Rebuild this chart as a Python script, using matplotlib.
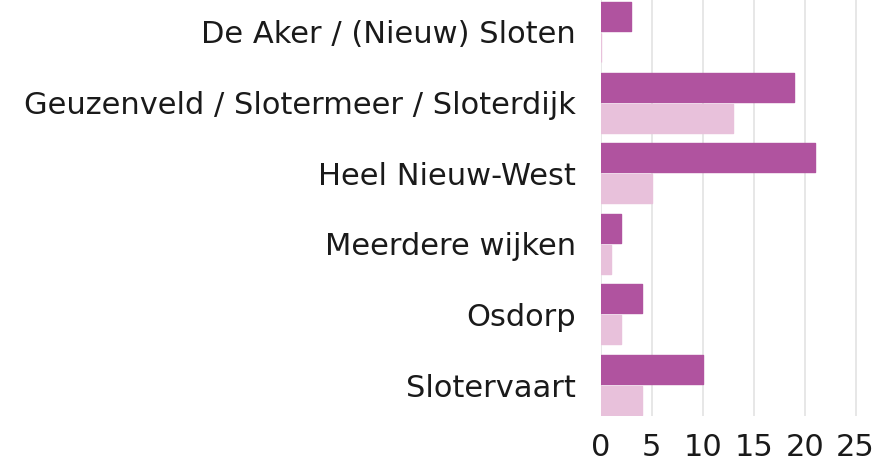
import numpy as np
import matplotlib.pyplot as plt

plt.rcParams['font.family'] = ['DejaVu Sans']

categories = ['De Aker / (Nieuw) Sloten', 'Geuzenveld / Slotermeer / Sloterdijk',
              'Heel Nieuw-West', 'Meerdere wijken', 'Osdorp', 'Slotervaart']
series_a = [3, 19, 21, 2, 4, 10]
series_b = [0, 13, 5, 1, 2, 4]
ticks = [0, 5, 10, 15, 20, 25]

dark = '#b0539f'
light = '#e8c1db'

fig = plt.figure(figsize=(8.76, 4.61), dpi=100)
ax = fig.add_axes([0.686, 0.0976, 0.314, 0.9024])

y = np.arange(len(categories))
h = 0.41
ax.barh(y - h / 2 - 0.014, series_a, height=h, color=dark, edgecolor=dark,
        linewidth=1, joinstyle='round', zorder=3)
ax.barh(y + h / 2 + 0.014, series_b, height=h, color=light, edgecolor=light,
        linewidth=1, joinstyle='round', zorder=3)

ax.set_ylim(5.439, -0.453)
ax.set_xlim(0, 27)
ax.set_xticks(ticks)
ax.set_yticks(y)
ax.set_yticklabels(categories)
ax.tick_params(axis='y', length=0, pad=18, labelsize=22, labelcolor='#1a1a1a')
ax.tick_params(axis='x', length=0, pad=12, labelsize=22, labelcolor='#1a1a1a')
ax.grid(axis='x', color='#e3e3e3', linewidth=1.2, zorder=0)
for s in ax.spines.values():
    s.set_visible(False)

fig.savefig('out.png', dpi=100)
